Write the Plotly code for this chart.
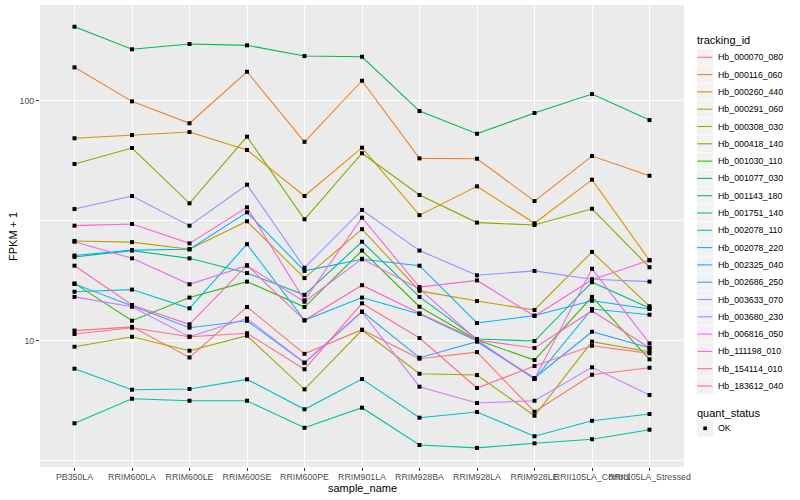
import plotly.graph_objects as go

samples = ["PB350LA", "RRIM600LA", "RRIM600LE", "RRIM600SE", "RRIM600PE", "RRIM901LA",
           "RRIM928BA", "RRIM928LA", "RRIM928LE", "RRII105LA_Control", "RRII105LA_Stressed"]

tracking_ids = ["Hb_000070_080", "Hb_000116_060", "Hb_000260_440", "Hb_000291_060", "Hb_000308_030",
                "Hb_000418_140", "Hb_001030_110", "Hb_001077_030", "Hb_001143_180", "Hb_001751_140",
                "Hb_002078_110", "Hb_002078_220", "Hb_002325_040", "Hb_002686_250", "Hb_003633_070",
                "Hb_003680_230", "Hb_006816_050", "Hb_111198_010", "Hb_154114_010", "Hb_183612_040"]

colors = ["#F8766D", "#EA8331", "#D89000", "#C09B00", "#A3A500", "#7CAE00", "#39B600", "#00BB4E",
          "#00BF7D", "#00C1A3", "#00BFC4", "#00BAE0", "#00B0F6", "#35A2FF", "#9590FF", "#C77CFF",
          "#E76BF3", "#FA62DB", "#FF62BC", "#FF6C91"]

# FPKM + 1 per sample
Hb_000070_080 = [11.0, 11.4, 8.5, 13.8, 8.8, 11.1, 8.4, 8.95, 5.05, 7.2, 7.7]
Hb_000116_060 = [137.5, 99.2, 80.4, 131.8, 67.3, 120.9, 57.4, 57.2, 38.1, 58.7, 48.6]
Hb_000260_440 = [69.6, 71.8, 73.9, 62.2, 40.0, 63.6, 33.3, 43.9, 30.8, 46.8, 21.6]
Hb_000291_060 = [26.0, 25.7, 24.0, 31.4, 18.2, 29.1, 16.1, 14.6, 13.4, 23.4, 13.9]
Hb_000308_030 = [9.42, 10.37, 9.07, 10.47, 6.26, 11.06, 7.27, 7.18, 4.86, 9.89, 8.98]
Hb_000418_140 = [54.4, 63.4, 37.3, 70.7, 32.0, 60.3, 40.4, 31.0, 30.3, 35.4, 20.2]
Hb_001030_110 = [17.3, 12.09, 15.1, 17.6, 13.79, 23.7, 13.83, 10.05, 8.29, 15.2, 8.35]
Hb_001077_030 = [203.0, 163.5, 172.0, 169.8, 153.2, 152.2, 90.4, 72.7, 88.7, 106.4, 82.9]
Hb_001143_180 = [22.3, 23.7, 22.0, 19.1, 15.5, 25.8, 15.2, 10.15, 9.95, 17.5, 13.66]
Hb_001751_140 = [4.52, 5.72, 5.61, 5.61, 4.33, 5.25, 3.67, 3.57, 3.73, 3.88, 4.25]
Hb_002078_110 = [7.63, 6.24, 6.28, 6.89, 5.17, 6.91, 4.77, 5.04, 3.99, 4.63, 4.94]
Hb_002078_220 = [15.97, 16.3, 13.62, 25.2, 12.14, 15.1, 12.9, 9.95, 6.91, 13.53, 12.81]
Hb_002325_040 = [22.6, 23.8, 24.0, 34.2, 19.5, 21.8, 20.5, 11.83, 12.71, 14.65, 13.53]
Hb_002686_250 = [17.2, 13.9, 11.31, 12.09, 8.08, 13.21, 8.48, 9.89, 6.98, 10.88, 9.33]
Hb_003633_070 = [35.3, 40.0, 30.1, 44.6, 20.1, 35.0, 23.7, 18.7, 19.5, 18.0, 17.6]
Hb_003680_230 = [15.2, 13.83, 10.37, 12.35, 8.08, 13.15, 6.42, 5.49, 5.61, 7.73, 5.93]
Hb_006816_050 = [25.8, 22.0, 17.15, 20.5, 14.51, 21.9, 16.4, 10.05, 6.91, 19.9, 9.73]
Hb_111198_010 = [30.1, 30.6, 25.4, 35.9, 14.71, 32.5, 16.7, 17.8, 12.65, 17.9, 21.6]
Hb_154114_010 = [20.5, 14.06, 11.68, 20.6, 12.14, 17.0, 12.98, 10.05, 9.31, 13.31, 9.31]
Hb_183612_040 = [10.64, 11.31, 10.37, 10.72, 7.59, 14.29, 10.24, 6.34, 7.83, 9.51, 8.84]

series = [Hb_000070_080, Hb_000116_060, Hb_000260_440, Hb_000291_060, Hb_000308_030,
          Hb_000418_140, Hb_001030_110, Hb_001077_030, Hb_001143_180, Hb_001751_140,
          Hb_002078_110, Hb_002078_220, Hb_002325_040, Hb_002686_250, Hb_003633_070,
          Hb_003680_230, Hb_006816_050, Hb_111198_010, Hb_154114_010, Hb_183612_040]

quant_status = "OK"

y_ticks = [10, 100]
y_minor = [10 ** 0.5, 10 ** 1.5]

FONT = "Liberation Sans, Arial, Helvetica, sans-serif"
W, H = 800, 500
ML, MR, MT, MB = 40, 116, 5, 33

fig = go.Figure()
for name, col, vals in zip(tracking_ids, colors, series):
    fig.add_trace(go.Scatter(x=samples, y=vals, mode="lines", name=name,
                             line=dict(color=col, width=1.1), showlegend=False,
                             hoverinfo="skip"))

all_x, all_y = [], []
for vals in series:
    all_x += samples
    all_y += vals
fig.add_trace(go.Scatter(x=all_x, y=all_y, mode="markers", name=quant_status,
                         marker=dict(symbol="square", size=4, color="black"),
                         showlegend=False))

# pixel -> paper helpers (layout only)
pw = W - ML - MR
ph = H - MT - MB
def px(x):
    return (x - ML) / pw
def py(y):
    return (H - MB - y) / ph

shapes = []
annotations = []

# axis titles
annotations.append(dict(text="sample_name", x=0.5, y=py(488.5), xref="paper", yref="paper",
                        showarrow=False, xanchor="center", yanchor="middle",
                        font=dict(size=11, color="black", family=FONT)))
annotations.append(dict(text="FPKM + 1", x=px(13), y=0.5, xref="paper", yref="paper",
                        showarrow=False, xanchor="center", yanchor="middle", textangle=-90,
                        font=dict(size=11, color="black", family=FONT)))

# legend: tracking_id
key_x0, key_w, key_h = 696.5, 17.2, 17.3
first_c, step = 57.3, 17.3
annotations.append(dict(text="tracking_id", x=px(695), y=py(39.5), xref="paper", yref="paper",
                        showarrow=False, xanchor="left", yanchor="middle",
                        font=dict(size=11, color="black", family=FONT)))
for i, (name, col) in enumerate(zip(tracking_ids, colors)):
    c = first_c + i * step
    shapes.append(dict(type="rect", xref="paper", yref="paper",
                       x0=px(key_x0), x1=px(key_x0 + key_w),
                       y0=py(c - key_h / 2), y1=py(c + key_h / 2),
                       fillcolor="#F2F2F2", line=dict(color="white", width=0.6), layer="below"))
    shapes.append(dict(type="line", xref="paper", yref="paper",
                       x0=px(key_x0 + 0.8), x1=px(key_x0 + key_w - 1.5), y0=py(c), y1=py(c),
                       line=dict(color=col, width=1.1)))
    annotations.append(dict(text=name, x=px(716), y=py(c), xref="paper", yref="paper",
                            showarrow=False, xanchor="left", yanchor="middle",
                            font=dict(size=8.8, color="black", family=FONT)))

# legend: quant_status
annotations.append(dict(text="quant_status", x=px(695), y=py(412.5), xref="paper", yref="paper",
                        showarrow=False, xanchor="left", yanchor="middle",
                        font=dict(size=11, color="black", family=FONT)))
c = 428.3
shapes.append(dict(type="rect", xref="paper", yref="paper",
                   x0=px(key_x0), x1=px(key_x0 + key_w),
                   y0=py(c - key_h / 2), y1=py(c + key_h / 2),
                   fillcolor="#F2F2F2", line=dict(color="white", width=0.6), layer="below"))
shapes.append(dict(type="rect", xref="paper", yref="paper",
                   x0=px(key_x0 + key_w / 2 - 1.8), x1=px(key_x0 + key_w / 2 + 1.8),
                   y0=py(c - 1.8), y1=py(c + 1.8),
                   fillcolor="black", line=dict(width=0)))
annotations.append(dict(text=quant_status, x=px(716), y=py(c), xref="paper", yref="paper",
                        showarrow=False, xanchor="left", yanchor="middle",
                        font=dict(size=8.8, color="black", family=FONT)))

fig.update_layout(
    width=W, height=H, autosize=False,
    margin=dict(l=ML, r=MR, t=MT, b=MB, pad=0),
    paper_bgcolor="white", plot_bgcolor="#EBEBEB",
    font=dict(family=FONT, size=8.8, color="#4D4D4D"),
    showlegend=False,
    shapes=shapes, annotations=annotations,
    hovermode="closest",
)
fig.update_xaxes(type="category", categoryorder="array", categoryarray=samples,
                 range=[-0.6, len(samples) - 0.4], tickangle=0,
                 showgrid=True, gridcolor="white", gridwidth=1.1,
                 ticks="outside", ticklen=3, tickwidth=1, tickcolor="#333333",
                 ticklabelstandoff=-2,
                 tickfont=dict(size=8.8, color="#4D4D4D", family=FONT),
                 zeroline=False, showline=False, fixedrange=True)
fig.update_yaxes(type="log", range=[0.473, 2.398],
                 tickvals=y_ticks, ticktext=[str(v) for v in y_ticks],
                 showgrid=True, gridcolor="white", gridwidth=1.1,
                 ticks="outside", ticklen=3, tickwidth=1, tickcolor="#333333",
                 tickfont=dict(size=8.8, color="#4D4D4D", family=FONT),
                 minor=dict(tickvals=y_minor, showgrid=True, gridcolor="white",
                            gridwidth=0.55, ticks=""),
                 zeroline=False, showline=False, fixedrange=True)

fig.write_html("out.html", config={"displayModeBar": False},
               post_script="document.body.style.margin='0px';document.body.style.overflow='hidden';")
